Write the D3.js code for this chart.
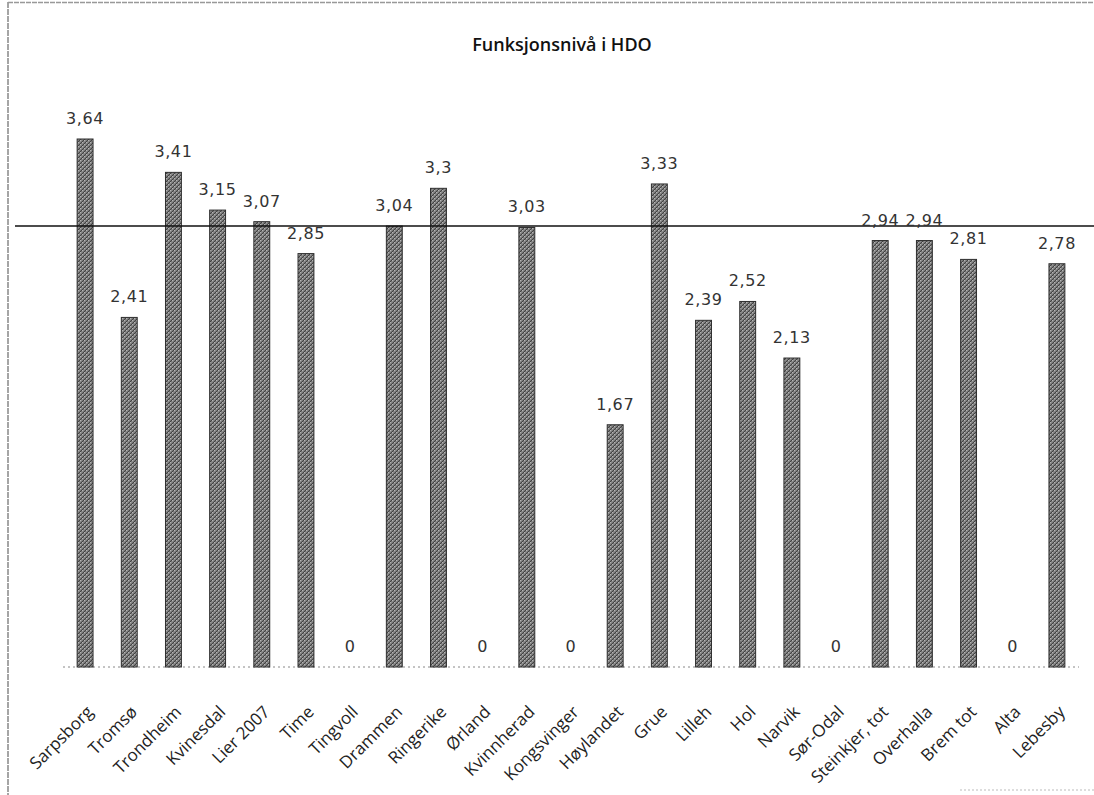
<!DOCTYPE html>
<html>
<head>
<meta charset="utf-8">
<script src="https://cdn.jsdelivr.net/npm/d3@7"></script>
<style>
  body { margin: 0; background: #fff; }
  svg { display: block; }
</style>
</head>
<body>
<div id="chart"></div>
<script>
// data
const categories = ['Sarpsborg', 'Tromsø', 'Trondheim', 'Kvinesdal', 'Lier 2007', 'Time', 'Tingvoll',
  'Drammen', 'Ringerike', 'Ørland', 'Kvinnherad', 'Kongsvinger', 'Høylandet', 'Grue', 'Lilleh', 'Hol',
  'Narvik', 'Sør-Odal', 'Steinkjer, tot', 'Overhalla', 'Brem tot', 'Alta', 'Lebesby'];
const values = [3.64, 2.41, 3.41, 3.15, 3.07, 2.85, 0, 3.04, 3.3, 0, 3.03, 0, 1.67, 3.33, 2.39, 2.52,
  2.13, 0, 2.94, 2.94, 2.81, 0, 2.78];
const referenceLine = 3.04;

const width = 1094;
const height = 795;
const margin = { left: 63, right: 15, top: 12, bottom: 128 };

const svg = d3.select('#chart').append('svg')
  .attr('width', width)
  .attr('height', height);

// grainy scan-like fill
const defs = svg.append('defs');
const pat = defs.append('pattern')
  .attr('id', 'grain')
  .attr('patternUnits', 'userSpaceOnUse')
  .attr('width', 4).attr('height', 4);
pat.append('rect').attr('width', 4).attr('height', 4).attr('fill', '#8e8e8e');
pat.append('path').attr('d', 'M0,4 L4,0 M-1,1 L1,-1 M3,5 L5,3').attr('stroke', '#3e3e3e').attr('stroke-width', 1.1);
pat.append('path').attr('d', 'M0,0 L1,1 M2,2 L3,3').attr('stroke', '#c4c4c4').attr('stroke-width', 0.8);

// frame of the pasted chart
svg.append('line')
  .attr('x1', 8).attr('y1', 2).attr('x2', 8).attr('y2', height)
  .attr('stroke', '#888').attr('stroke-width', 1.5).attr('stroke-dasharray', '6,1');
svg.append('line')
  .attr('x1', 8).attr('y1', 2.5).attr('x2', width).attr('y2', 2.5)
  .attr('stroke', '#999').attr('stroke-width', 1.5).attr('stroke-dasharray', '5,1');
svg.append('line')
  .attr('x1', 960).attr('y1', 790).attr('x2', width).attr('y2', 790)
  .attr('stroke', '#bbb').attr('stroke-width', 1).attr('stroke-dasharray', '2,2');

const x = d3.scaleBand()
  .domain(categories)
  .range([margin.left, width - margin.right])
  .paddingInner(0.64)
  .paddingOuter(0.32);

const y = d3.scaleLinear()
  .domain([0, 3.64])
  .range([667, 139]);

// title
svg.append('text')
  .attr('x', 562)
  .attr('y', 51)
  .attr('text-anchor', 'middle')
  .attr('font-family', 'Open Sans, sans-serif')
  .attr('font-size', 18)
  .attr('font-weight', 600)
  .attr('fill', '#111')
  .text('Funksjonsnivå i HDO');

// dotted baseline
svg.append('line')
  .attr('x1', margin.left).attr('x2', width - margin.right)
  .attr('y1', y(0)).attr('y2', y(0))
  .attr('stroke', '#888').attr('stroke-width', 1).attr('stroke-dasharray', '2,3');

svg.selectAll('rect.bar')
  .data(values)
  .enter().append('rect')
    .attr('class', 'bar')
    .attr('x', (d, i) => x(categories[i]))
    .attr('y', d => y(d))
    .attr('width', x.bandwidth())
    .attr('height', d => y(0) - y(d))
    .attr('fill', 'url(#grain)')
    .attr('stroke', '#2e2e2e')
    .attr('stroke-width', d => d > 0 ? 1 : 0);

// reference line
svg.append('line')
  .attr('x1', 15).attr('x2', width)
  .attr('y1', y(referenceLine)).attr('y2', y(referenceLine))
  .attr('stroke', '#111').attr('stroke-width', 1.5);

// value labels
svg.selectAll('text.val')
  .data(values)
  .enter().append('text')
    .attr('class', 'val')
    .attr('x', (d, i) => x(categories[i]) + x.bandwidth() / 2)
    .attr('y', d => y(d) - 15)
    .attr('text-anchor', 'middle')
    .attr('font-family', 'DejaVu Sans, sans-serif')
    .attr('font-size', 16)
    .attr('letter-spacing', 0.6)
    .attr('fill', '#333')
    .text(d => String(d).replace('.', ','));

// category labels, rotated
svg.selectAll('text.cat')
  .data(categories)
  .enter().append('text')
    .attr('class', 'cat')
    .attr('transform', d => `translate(${x(d) + x.bandwidth() / 2 + 9},${713}) rotate(-45)`)
    .attr('text-anchor', 'end')
    .attr('font-family', 'Open Sans, sans-serif')
    .attr('font-size', 17)
    .attr('fill', '#222')
    .text(d => d);
</script>
</body>
</html>
